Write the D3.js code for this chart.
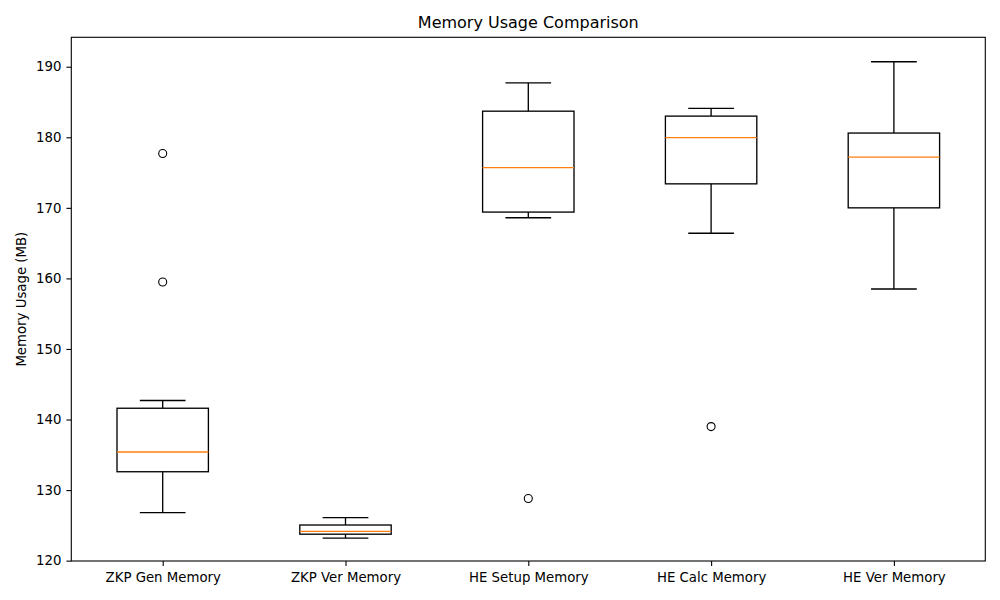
<!DOCTYPE html>
<html>
<head>
<meta charset="utf-8">
<script src="https://cdn.jsdelivr.net/npm/d3@7"></script>
<style>
  body { margin: 0; background: #fff; }
  svg { display: block; font-family: "DejaVu Sans", sans-serif; }
</style>
</head>
<body>
<svg id="chart" width="1000" height="600"></svg>
<script>
const categories = ["ZKP Gen Memory", "ZKP Ver Memory", "HE Setup Memory", "HE Calc Memory", "HE Ver Memory"];
const whiskerLow = [126.8, 123.2, 168.6, 166.4, 158.5];
const q1 = [132.6, 123.75, 169.4, 173.4, 170.0];
const medians = [135.4, 124.15, 175.7, 179.95, 177.2];
const q3 = [141.6, 125.05, 183.7, 183.0, 180.6];
const whiskerHigh = [142.7, 126.1, 187.7, 184.1, 190.7];
const outliers = [[177.7, 159.5], [], [128.8], [139.0], []];
const yTicks = [120, 130, 140, 150, 160, 170, 180, 190];

(function () {
const svg = d3.select("#chart");
const mLeft = 71.3, mRight = 985.3, mTop = 37.3, mBottom = 561;

const x = d3.scaleLinear().domain([0.5, 5.5]).range([mLeft, mRight]);
const y = d3.scaleLinear().domain([119.95, 194.17]).range([mBottom, mTop]);
const unit = x(2) - x(1);
const boxW = unit * 0.5, capW = unit * 0.25;

svg.append("text").attr("x", (mLeft + mRight) / 2).attr("y", 28)
  .attr("text-anchor", "middle").attr("font-size", 16).attr("fill", "#000")
  .text("Memory Usage Comparison");

svg.append("text").attr("transform", `translate(25.5,${(mTop + mBottom) / 2}) rotate(-90)`)
  .attr("text-anchor", "middle").attr("font-size", 13.3).attr("fill", "#000")
  .text("Memory Usage (MB)");

const yAxis = d3.axisLeft(y).tickValues(yTicks).tickSize(4.9).tickPadding(4.9).tickFormat(d3.format("d"));
const gy = svg.append("g").attr("transform", `translate(${mLeft},0)`).call(yAxis);
gy.select(".domain").remove();
gy.selectAll("line").attr("stroke", "#000").attr("stroke-width", 1.1);
gy.selectAll("text").attr("font-size", 13.3).attr("fill", "#000").attr("font-family", "DejaVu Sans");

const xAxis = d3.axisBottom(x).tickValues([1, 2, 3, 4, 5]).tickSize(4.9).tickPadding(6.3)
  .tickFormat(d => categories[d - 1]);
const gx = svg.append("g").attr("transform", `translate(0,${mBottom})`).call(xAxis);
gx.select(".domain").remove();
gx.selectAll("line").attr("stroke", "#000").attr("stroke-width", 1.1);
gx.selectAll("text").attr("font-size", 13.3).attr("fill", "#000").attr("font-family", "DejaVu Sans");

const g = svg.append("g");
categories.forEach((c, i) => {
  const cx = x(i + 1);
  const line = (x1, y1, x2, y2, color) => g.append("line")
    .attr("x1", x1).attr("y1", y1).attr("x2", x2).attr("y2", y2)
    .attr("stroke", color || "#000").attr("stroke-width", 1.33);
  line(cx, y(q1[i]), cx, y(whiskerLow[i]));
  line(cx, y(q3[i]), cx, y(whiskerHigh[i]));
  line(cx - capW / 2, y(whiskerLow[i]), cx + capW / 2, y(whiskerLow[i]));
  line(cx - capW / 2, y(whiskerHigh[i]), cx + capW / 2, y(whiskerHigh[i]));
  g.append("rect").attr("x", cx - boxW / 2).attr("y", y(q3[i]))
    .attr("width", boxW).attr("height", y(q1[i]) - y(q3[i]))
    .attr("fill", "none").attr("stroke", "#000").attr("stroke-width", 1.33);
  line(cx - boxW / 2, y(medians[i]), cx + boxW / 2, y(medians[i]), "#ff7f0e");
  outliers[i].forEach(v => {
    g.append("circle").attr("cx", cx).attr("cy", y(v)).attr("r", 4)
      .attr("fill", "none").attr("stroke", "#000").attr("stroke-width", 1.1);
  });
});

svg.append("rect").attr("x", mLeft).attr("y", mTop).attr("width", mRight - mLeft).attr("height", mBottom - mTop)
  .attr("fill", "none").attr("stroke", "#000").attr("stroke-width", 1.1);
})();
</script>
</body>
</html>
